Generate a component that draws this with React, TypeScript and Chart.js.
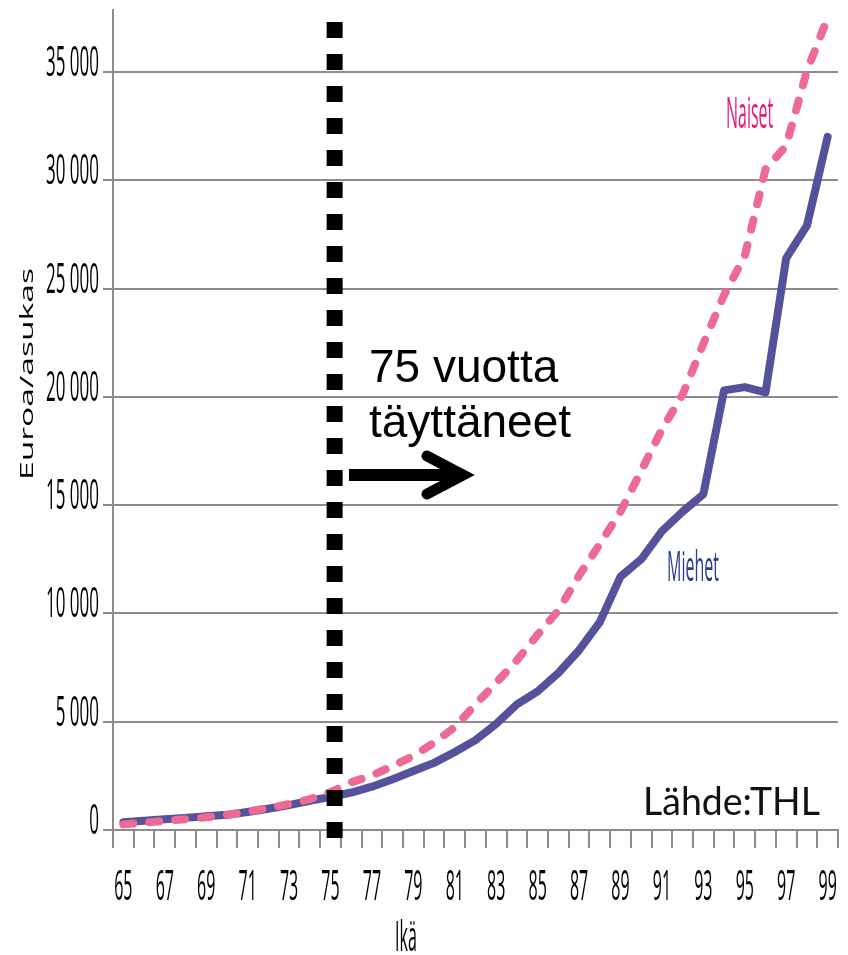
import React, { useEffect, useRef } from "react";
import { Chart, registerables } from "chart.js";

Chart.register(...registerables);

// ---- data ----
const ages = [
  "65", "66", "67", "68", "69", "70", "71", "72", "73", "74",
  "75", "76", "77", "78", "79", "80", "81", "82", "83", "84",
  "85", "86", "87", "88", "89", "90", "91", "92", "93", "94",
  "95", "96", "97", "98", "99",
];
const miehet = [
  360, 430, 500, 560, 630, 700, 830, 980, 1150, 1350,
  1530, 1730, 2000, 2340, 2720, 3100, 3600, 4150, 4900, 5800,
  6400, 7250, 8300, 9600, 11700, 12500, 13800, 14700, 15500, 20300,
  20450, 20200, 26400, 27900, 32000,
];
const naiset = [
  260, 340, 420, 500, 590, 700, 850, 1020, 1200, 1420,
  1750, 2200, 2520, 2950, 3420, 4030, 4750, 5800, 6800, 7840,
  9020, 10140, 11750, 13200, 14700, 16580, 18500, 20100, 22450, 24700,
  26500, 30500, 31600, 35050, 37500,
];
const yTickValues = [0, 5000, 10000, 15000, 20000, 25000, 30000, 35000];
const xTickAges = ages.filter((_, i) => i % 2 === 0);
const yTitle = "Euroa/asukas";
const xTitle = "Ikä";
const seriesNames = ["Naiset", "Miehet"];
const annotationLines = ["75 vuotta", "täyttäneet"];
const sourceText = "Lähde:THL";
const markerAge = "75";

const GRID = "#8c8c8c";
const BLUE = "#53529b";
const PINK = "#ec6a93";
const FONT = '"Open Sans", "Noto Sans", sans-serif';

function fmt(v: number): string {
  if (v === 0) return "0";
  return Math.floor(v / 1000) + " " + String(v % 1000).padStart(3, "0");
}

function stretched(
  ctx: CanvasRenderingContext2D,
  text: string,
  x: number,
  y: number,
  size: number,
  sy: number,
  align: CanvasTextAlign,
  color: string
) {
  ctx.save();
  ctx.translate(x, y);
  ctx.scale(1, sy);
  ctx.font = `${size}px ${FONT}`;
  ctx.textAlign = align;
  ctx.textBaseline = "alphabetic";
  ctx.fillStyle = color;
  ctx.fillText(text, 0, 0);
  ctx.restore();
}

const overlay = {
  id: "overlay",
  afterDatasetsDraw(chart: any) {
    const { ctx, chartArea } = chart;
    const x = chart.scales.x;
    const idx = ages.indexOf(markerAge);
    const px = x.getPixelForValue(idx + 0.2);
    ctx.save();
    ctx.strokeStyle = "#000";
    ctx.lineWidth = 16;
    ctx.setLineDash([16, 16]);
    ctx.lineCap = "butt";
    ctx.beginPath();
    ctx.moveTo(px, chartArea.top + 12);
    ctx.lineTo(px, chartArea.bottom + 8);
    ctx.stroke();
    ctx.restore();
  },
  afterDraw(chart: any) {
    const { ctx, chartArea } = chart;
    const x = chart.scales.x;
    const y = chart.scales.y;

    // y tick labels
    yTickValues.forEach((v) => {
      const py = y.getPixelForValue(v);
      stretched(ctx, fmt(v), chartArea.left - 14, py + 4, 17, 2.5, "right", "#000");
    });
    // x tick labels
    xTickAges.forEach((a) => {
      const px = x.getPixelForValue(ages.indexOf(a));
      stretched(ctx, a, px, chartArea.bottom + 70, 16, 2.6, "center", "#000");
    });
    // x title
    stretched(ctx, xTitle, 406, 951, 16, 2.6, "center", "#000");

    // y title (rotated)
    ctx.save();
    ctx.translate(33, 374);
    ctx.rotate(-Math.PI / 2);
    ctx.font = `19px ${FONT}`;
    const w = ctx.measureText(yTitle).width;
    ctx.scale(212 / w, 1);
    ctx.textAlign = "center";
    ctx.textBaseline = "alphabetic";
    ctx.fillStyle = "#000";
    ctx.fillText(yTitle, 0, 0);
    ctx.restore();

    // series labels
    stretched(ctx, seriesNames[0], 726, 128, 16, 2.75, "left", "#e6197a");
    stretched(ctx, seriesNames[1], 667, 581, 16, 2.6, "left", "#2c3c8f");

    // annotation text
    ctx.save();
    ctx.font = '46px "Liberation Sans", Arial, sans-serif';
    ctx.fillStyle = "#000";
    ctx.textAlign = "left";
    ctx.textBaseline = "alphabetic";
    ctx.fillText(annotationLines[0], 369, 382);
    ctx.fillText(annotationLines[1], 369, 437);
    ctx.restore();

    // arrow
    ctx.save();
    ctx.strokeStyle = "#000";
    ctx.lineWidth = 12;
    ctx.lineCap = "butt";
    ctx.beginPath();
    ctx.moveTo(349, 475);
    ctx.lineTo(462, 475);
    ctx.stroke();
    ctx.lineWidth = 11;
    ctx.lineCap = "round";
    ctx.lineJoin = "miter";
    ctx.miterLimit = 10;
    ctx.beginPath();
    ctx.moveTo(427, 456);
    ctx.lineTo(463, 475);
    ctx.lineTo(427, 494);
    ctx.stroke();
    ctx.restore();

    // source
    ctx.save();
    ctx.font = '38px Lato, "Open Sans", sans-serif';
    const sw = ctx.measureText(sourceText).width;
    ctx.translate(643, 815);
    ctx.scale(177 / sw, 1);
    ctx.fillStyle = "#111";
    ctx.textAlign = "left";
    ctx.textBaseline = "alphabetic";
    ctx.fillText(sourceText, 0, 0);
    ctx.restore();
  },
};

export default function App() {
  const ref = useRef<HTMLCanvasElement | null>(null);

  useEffect(() => {
    const canvas = ref.current;
    if (!canvas) return;
    const chart = new Chart(canvas, {
      type: "line",
      data: {
        labels: ages,
        datasets: [
          {
            label: seriesNames[0],
            data: naiset,
            borderColor: PINK,
            borderWidth: 8,
            borderDash: [10, 16],
            borderCapStyle: "round",
            borderJoinStyle: "round",
            pointRadius: 0,
            tension: 0,
            fill: false,
            order: 0,
          },
          {
            label: seriesNames[1],
            data: miehet,
            borderColor: BLUE,
            borderWidth: 8,
            borderCapStyle: "round",
            borderJoinStyle: "round",
            pointRadius: 0,
            tension: 0,
            fill: false,
            order: 1,
          },
        ],
      },
      options: {
        responsive: false,
        animation: false,
        layout: { padding: { left: 103, right: 10, top: 10, bottom: 107 } },
        plugins: {
          legend: { display: false },
          tooltip: { enabled: false },
        },
        scales: {
          x: {
            type: "category",
            offset: true,
            grid: {
              display: true,
              offset: true,
              drawOnChartArea: false,
              drawTicks: true,
              tickLength: 18,
              color: GRID,
              lineWidth: 2,
            },
            border: { display: true, color: GRID, width: 2 },
            ticks: { display: false, autoSkip: false },
          },
          y: {
            type: "linear",
            min: 0,
            max: 37860,
            afterBuildTicks: (scale: any) => {
              scale.ticks = yTickValues.map((v) => ({ value: v }));
            },
            grid: {
              display: true,
              drawTicks: true,
              tickLength: 10,
              color: GRID,
              lineWidth: 2,
            },
            border: { display: true, color: GRID, width: 2 },
            ticks: { display: false },
          },
        },
      },
      plugins: [overlay],
    });
    return () => chart.destroy();
  }, []);

  return (
    <div style={{ position: "absolute", left: 0, top: 0, width: 848, height: 955, background: "#fff" }}>
      <canvas ref={ref} width={848} height={955} style={{ display: "block" }} />
    </div>
  );
}
